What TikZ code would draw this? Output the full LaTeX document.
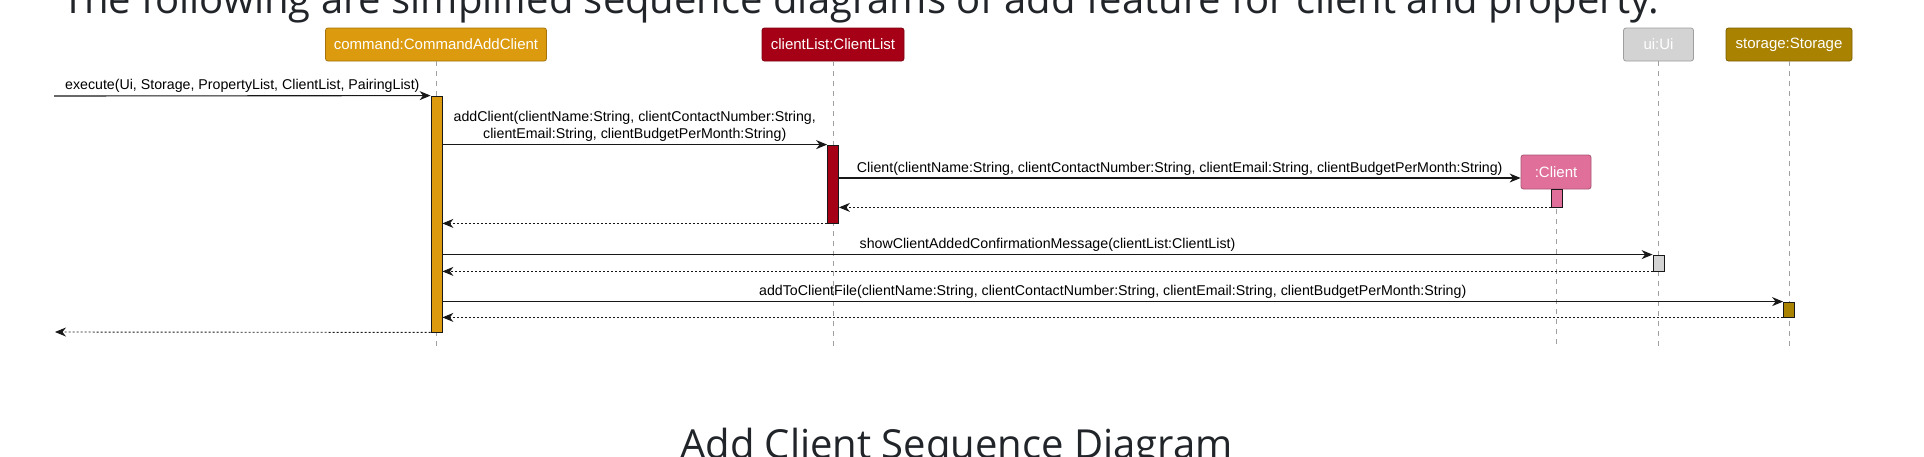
\documentclass[tikz,border=0pt]{standalone}
\usepackage{fontspec}
\setmainfont{Liberation Sans}
\newfontfamily\msgfont{Liberation Sans}
\newfontfamily\titlefont{Open Sans}
\usetikzlibrary{arrows.meta}
\definecolor{cmdc}{HTML}{DC9A0E}
\definecolor{clc}{HTML}{A60016}
\definecolor{uic}{HTML}{D3D3D3}
\definecolor{stc}{HTML}{A88200}
\definecolor{clic}{HTML}{E0709A}
\definecolor{linec}{HTML}{181818}
\definecolor{lifec}{HTML}{A0A0A0}
\definecolor{txtc}{HTML}{212529}
\tikzset{
  part/.style={draw=#1!75!black, fill=#1, line width=0.8pt, rounded corners=2.5pt,
    text=white, font=\msgfont\fontsize{15}{18}\selectfont, minimum height=33pt, inner sep=0pt},
  actbar/.style={draw=linec, fill=#1, line width=0.8pt, minimum width=11pt, inner sep=0pt},
  life/.style={draw=lifec, line width=0.9pt, dash pattern=on 5pt off 5pt},
  call/.style={draw=linec, line width=1.1pt, -{Stealth[length=11pt,width=9pt,inset=3.5pt]}},
  ret/.style={draw=linec, line width=0.9pt, dash pattern=on 2pt off 2pt, -{Stealth[length=11pt,width=9pt,inset=3.5pt]}},
  lbl/.style={midway, above, inner sep=2.5pt, text=black, font=\msgfont\fontsize{14.2}{17}\selectfont},
  bigtext/.style={anchor=base west, inner sep=0pt, text=txtc, font=\titlefont\fontsize{40}{48}\selectfont}
}
\begin{document}
\begin{tikzpicture}[x=1pt,y=-1pt]
\clip (0,0) rectangle (1924,456);
\fill[white] (0,0) rectangle (1924,456);

\node[bigtext] (title) at (62,13) {The following are simplified sequence diagrams of add feature for client and property.};
\node[bigtext] (caption) at (680,458) {Add Client Sequence Diagram};

% participants
\node[part=cmdc, minimum width=221pt] (cmd) at (436,44.5) {command:CommandAddClient};
\node[part=clc, minimum width=142pt] (cl) at (833,44.5) {clientList:ClientList};
\node[part=uic, minimum width=70pt] (ui) at (1658.5,44.5) {ui:Ui};
\node[part=stc, minimum width=126pt] (st) at (1789,44.5) {storage:Storage};
\node[part=clic, minimum width=70pt, minimum height=34pt] (client) at (1556,172) {:Client};

% lifelines
\coordinate (bot) at (0,349);
\draw[life] (cmd.south) -- (cmd.south |- bot);
\draw[life] (cl.south) -- (cl.south |- bot);
\draw[life] (ui.south) -- (ui.south |- bot);
\draw[life] (st.south) -- (st.south |- bot);
\draw[life] (client.south) -- (client.south |- bot);

% activation bars
\node[actbar=cmdc, minimum height=236pt] (a1) at (436.5,214) {};
\node[actbar=clc, minimum height=78pt] (a2) at (833,184) {};
\node[actbar=clic, minimum height=18pt] (a3) at (1556.5,198) {};
\node[actbar=uic, minimum height=16pt] (a4) at (1658.5,263) {};
\node[actbar=stc, minimum height=15pt] (a5) at (1789,309.5) {};

% messages
\coordinate (start) at (54,96);
\coordinate (end) at (55,332);
\coordinate (cy) at (0,178);
\draw[call] (start) -- node[lbl] {execute(Ui, Storage, PropertyList, ClientList, PairingList)} (a1.north west);
\draw[call] (a1.east |- a2.north) -- node[lbl, align=center] {addClient(clientName:String, clientContactNumber:String,\\clientEmail:String, clientBudgetPerMonth:String)} (a2.north west);
\draw[call] (a2.east |- cy) -- node[lbl] {Client(clientName:String, clientContactNumber:String, clientEmail:String, clientBudgetPerMonth:String)} (client.west |- cy);
\draw[ret] (a3.south west) -- (a2.east |- a3.south);
\draw[ret] (a2.south west) -- (a1.east |- a2.south);
\draw[call] (a1.east |- a4.north) -- node[lbl] {showClientAddedConfirmationMessage(clientList:ClientList)} (a4.north west);
\draw[ret] (a4.south west) -- (a1.east |- a4.south);
\draw[call] (a1.east |- a5.north) -- node[lbl] {addToClientFile(clientName:String, clientContactNumber:String, clientEmail:String, clientBudgetPerMonth:String)} (a5.north west);
\draw[ret] (a5.south west) -- (a1.east |- a5.south);
\draw[ret] (a1.south west) -- (end);
\end{tikzpicture}
\end{document}
